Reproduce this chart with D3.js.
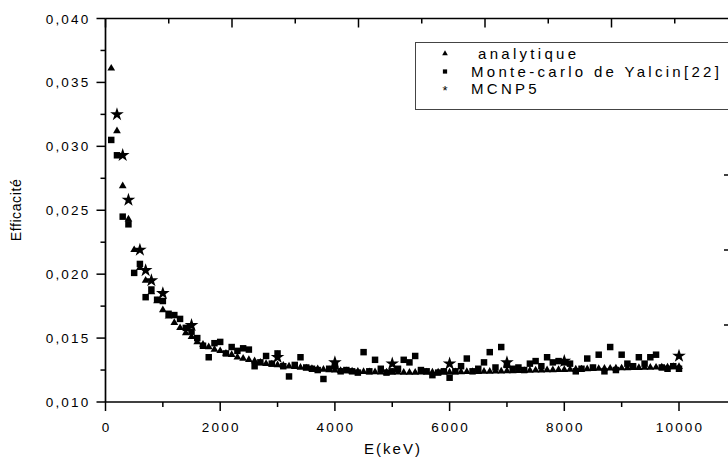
<!DOCTYPE html>
<html><head><meta charset="utf-8">
<script src="https://cdn.jsdelivr.net/npm/d3@7"></script>
<style>
html,body{margin:0;padding:0;background:#fff;}
svg{display:block;font-family:"Liberation Sans",Arial,sans-serif;}
</style></head>
<body><svg id="c" width="728" height="461"></svg>
<script>
// ---- DATA ----
const energies = d3.range(1, 101).map(i => i * 100); // 100 .. 10000 keV grid
const analytique = [
0.0361,0.0312,0.0269,0.0243,0.0219,0.0205,0.0195,0.0186,0.0179,0.0172,
0.0167,0.0162,0.0158,0.0154,0.0151,0.0147,0.0145,0.0143,0.0141,0.0140,
0.0138,0.0137,0.0135,0.0134,0.0133,0.0132,0.0131,0.0130,0.01295,0.0129,
0.01285,0.0128,0.01275,0.0127,0.01265,0.0126,0.01258,0.01255,0.0125,0.01248,
0.01245,0.01243,0.0124,0.01238,0.01236,0.01235,0.01234,0.01233,0.01232,0.01232,
0.01232,0.01231,0.01231,0.01231,0.01232,0.01232,0.01232,0.01233,0.01233,0.01233,
0.01234,0.01235,0.01236,0.01236,0.01237,0.01238,0.01239,0.0124,0.01241,0.01242,
0.01243,0.01244,0.01245,0.01246,0.01248,0.01249,0.0125,0.01251,0.01252,0.01253,
0.01254,0.01256,0.01257,0.01258,0.0126,0.01261,0.01262,0.01263,0.01264,0.01265,
0.01266,0.01267,0.01268,0.01269,0.0127,0.01271,0.01272,0.01273,0.01275,0.01276
];
const yalcin = [
0.0305,0.0293,0.0245,0.0239,0.0201,0.0208,0.0182,0.0188,0.0180,0.0179,
0.0169,0.0168,0.0165,0.0158,0.0155,0.0150,0.0144,0.0135,0.0146,0.0147,
0.0138,0.0143,0.0140,0.0142,0.0141,0.0128,0.0131,0.0136,0.0130,0.0138,
0.0128,0.0120,0.0129,0.0135,0.0127,0.0126,0.0125,0.0118,0.0126,0.0128,
0.0124,0.0125,0.0124,0.0123,0.0139,0.0124,0.0133,0.0126,0.0123,0.0124,
0.0126,0.0133,0.0131,0.0136,0.0125,0.0124,0.0121,0.0123,0.0124,0.0119,
0.0124,0.0128,0.0134,0.0124,0.0126,0.0131,0.0139,0.0127,0.0143,0.0129,
0.0126,0.0127,0.0125,0.0130,0.0132,0.0128,0.0135,0.0131,0.0132,0.0131,
0.0130,0.0124,0.0126,0.0134,0.0127,0.0137,0.0124,0.0143,0.0125,0.0137,
0.0130,0.0128,0.0135,0.0130,0.0135,0.0137,0.0127,0.0126,0.0128,0.0126
];
const mcnpE = [200,300,400,600,700,800,1000,1500,3000,4000,5000,6000,7000,8000,10000];
const mcnp5 = [0.0325,0.0293,0.0258,0.0219,0.0203,0.0195,0.0185,0.0160,0.0135,0.0131,0.0130,0.0130,0.0131,0.0132,0.0136];
const xTicks = [0,2000,4000,6000,8000,10000];
const xMinor = [1000,3000,5000,7000,9000,11000];
const yTicks = [0.010,0.015,0.020,0.025,0.030,0.035,0.040];
const yMinor = [0.0125,0.0175,0.0225,0.0275,0.0325,0.0375];
const topTicks = [0,1,2,3,4,5];       // secondary (top) frame scale, cut off
const topMinor = [0.5,1.5,2.5,3.5,4.5];
const rightTicks = [1,2,3];            // secondary (right) frame scale, cut off
const legendLabels = ["analytique","Monte-carlo de Yalcin[22]","MCNP5"];

// ---- LAYOUT ----
const svg = d3.select("#c");
const L = 105.5, R = 730, T = 18.5, B = 402;
const x = d3.scaleLinear().domain([0,10000]).range([L, 679]);
const y = d3.scaleLinear().domain([0.010,0.040]).range([B, T]);
const xTop = d3.scaleLinear().domain([0,1]).range([L, 232]);
const yRight = d3.scaleLinear().domain([1,2]).range([175, 250]);
const fmt = d => d3.format(".3f")(d).replace(".", ",");

const g = svg.append("g");

// frame lines
g.append("line").attr("x1",L).attr("x2",R).attr("y1",T).attr("y2",T).attr("stroke","#000").attr("stroke-width",1.7);
g.append("line").attr("x1",L).attr("x2",R).attr("y1",B).attr("y2",B).attr("stroke","#000").attr("stroke-width",1.7);
g.append("line").attr("x1",L).attr("x2",L).attr("y1",T).attr("y2",B).attr("stroke","#000").attr("stroke-width",1.7);

// bottom axis ticks
g.selectAll(".xt").data(xTicks).join("line").attr("x1",d=>x(d)).attr("x2",d=>x(d)).attr("y1",B).attr("y2",B+9).attr("stroke","#000").attr("stroke-width",1.5);
g.selectAll(".xm").data(xMinor).join("line").attr("x1",d=>x(d)).attr("x2",d=>x(d)).attr("y1",B).attr("y2",B+5).attr("stroke","#000").attr("stroke-width",1.5);
g.selectAll(".xl").data(xTicks).join("text").attr("x",d=>x(d)+1).attr("y",B+30).attr("text-anchor","middle")
 .attr("font-size",13.5).attr("letter-spacing",2.2).text(d=>d);

// left axis
g.selectAll(".yt").data(yTicks).join("line").attr("x1",L-9).attr("x2",L).attr("y1",d=>y(d)).attr("y2",d=>y(d)).attr("stroke","#000").attr("stroke-width",1.5);
g.selectAll(".ym").data(yMinor).join("line").attr("x1",L-5).attr("x2",L).attr("y1",d=>y(d)).attr("y2",d=>y(d)).attr("stroke","#000").attr("stroke-width",1.5);
g.selectAll(".yl").data(yTicks).join("text").attr("x",L-15).attr("y",d=>y(d)+5).attr("text-anchor","end")
 .attr("font-size",13.5).attr("letter-spacing",2.2).text(fmt);

// top axis (inward)
g.selectAll(".tt").data(topTicks).join("line").attr("x1",d=>xTop(d)).attr("x2",d=>xTop(d)).attr("y1",T).attr("y2",T+9).attr("stroke","#000").attr("stroke-width",1.5);
g.selectAll(".tm").data(topMinor).join("line").attr("x1",d=>xTop(d)).attr("x2",d=>xTop(d)).attr("y1",T).attr("y2",T+5).attr("stroke","#000").attr("stroke-width",1.5);
// right axis ticks (inward)
g.selectAll(".rt").data(rightTicks).join("line").attr("x1",724).attr("x2",R).attr("y1",d=>yRight(d)).attr("y2",d=>yRight(d)).attr("stroke","#000").attr("stroke-width",1.5);

// axis titles
svg.append("text").attr("x",393).attr("y",454).attr("text-anchor","middle").attr("font-size",15).attr("letter-spacing",2).text("E(keV)");
svg.append("text").attr("transform","translate(21,210) rotate(-90)").attr("text-anchor","middle").attr("font-size",14).attr("letter-spacing",0.6).text("Efficacité");

// data
const tri = d3.symbol().type(d3.symbolTriangle).size(26);
const sq = d3.symbol().type(d3.symbolSquare).size(42);
const st = d3.symbol().type(d3.symbolStar).size(58);
const triData = energies.map((e,i)=>({e, v:analytique[i]}));
const sqData = energies.map((e,i)=>({e, v:yalcin[i]}));
const stData = mcnpE.map((e,i)=>({e, v:mcnp5[i]}));
g.selectAll(".tri").data(triData).join("path").attr("d",tri).attr("transform",d=>`translate(${x(d.e)},${y(d.v)})`).attr("fill","#000");
g.selectAll(".sq").data(sqData).join("path").attr("d",sq).attr("transform",d=>`translate(${x(d.e)},${y(d.v)})`).attr("fill","#000");
g.selectAll(".st").data(stData).join("path").attr("d",st).attr("transform",d=>`translate(${x(d.e)},${y(d.v)})`).attr("fill","#000");

// legend
const lg = svg.append("g");
lg.append("rect").attr("x",415.5).attr("y",42.5).attr("width",330).attr("height",67).attr("fill","#fff").attr("stroke","#444").attr("stroke-width",1);
const rows = [53.5, 71.5, 88.5];
lg.append("path").attr("d",d3.symbol().type(d3.symbolTriangle).size(14)).attr("transform",`translate(445,${rows[0]})`).attr("fill","#000");
lg.append("path").attr("d",d3.symbol().type(d3.symbolSquare).size(18)).attr("transform",`translate(445,${rows[1]})`).attr("fill","#000");
lg.append("text").attr("x",445).attr("y",rows[2]+6).attr("text-anchor","middle").attr("font-size",13).text("*");
lg.selectAll(".lt").data(legendLabels).join("text")
 .attr("x",(d,i)=> i===0 ? 478 : 471).attr("y",(d,i)=>rows[i]+5.5)
 .attr("font-size",15).attr("letter-spacing",3.3).text(d=>d);
</script></body></html>
